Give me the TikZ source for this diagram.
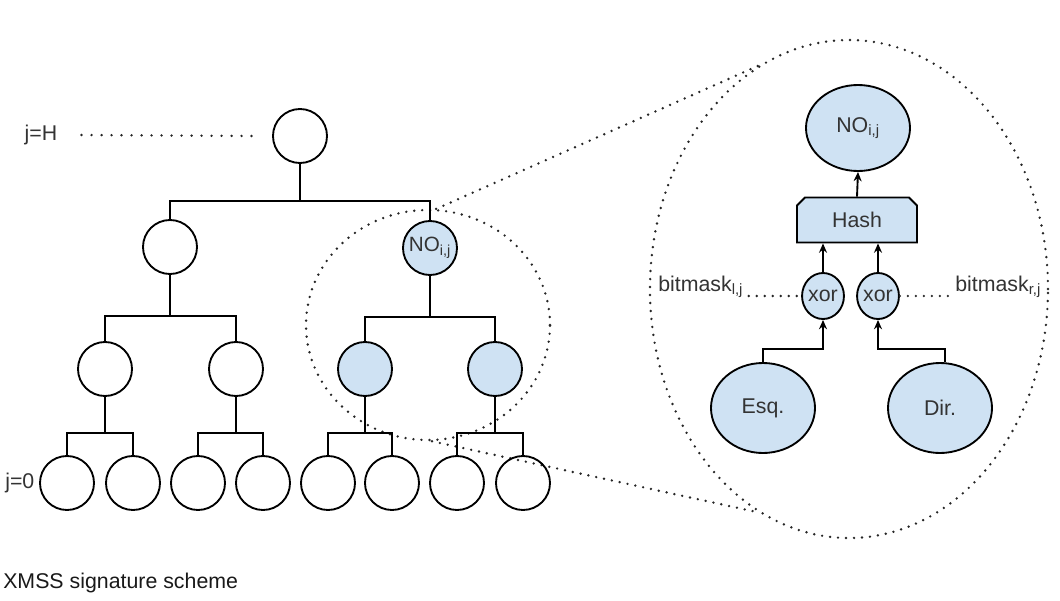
\documentclass[tikz,border=0pt]{standalone}
\usepackage{fontspec}
\setmainfont{Liberation Sans}
\usetikzlibrary{shapes.geometric,shapes.misc,arrows.meta}
\definecolor{nodeblue}{HTML}{CFE2F3}
\definecolor{txt}{HTML}{333333}
\begin{document}
\begin{tikzpicture}[x=0.75pt,y=-0.75pt,
  tnode/.style={circle,draw=black,line width=1.4pt,minimum size=40.5pt,inner sep=0pt,
    font=\fontsize{15.5}{18}\selectfont,text=txt},
  bnode/.style={tnode,fill=nodeblue},
  enode/.style={ellipse,draw=black,line width=1.4pt,fill=nodeblue,inner sep=0pt,
    font=\fontsize{16}{18}\selectfont,text=txt},
  edge/.style={line width=1.4pt},
  arr/.style={line width=1.4pt,-{Stealth[length=7pt,width=6pt]}},
  dots/.style={line width=2pt,line cap=round,dash pattern=on 0pt off 6pt,draw=black!85},
  lbl/.style={font=\fontsize{16}{18}\selectfont,text=txt,inner sep=0pt}
]
\useasboundingbox (0,0) rectangle (1060,600);

% zoom shapes
\node[ellipse,dots,minimum width=183pt,minimum height=172.5pt,inner sep=0pt] (zl) at (428,325) {};
\node[ellipse,dots,minimum width=298.5pt,minimum height=373.5pt,inner sep=0pt] (zr) at (849,289) {};
\draw[dots] (zl.86) -- (zr.112);
\draw[dots] (zl.-88) -- (zr.248);

% tree
\node[tnode] (r) at (300,136) {};
\node[tnode] (a) at (170,247) {};
\node[bnode] (n) at (430,248) {NO\textsubscript{i,j}};
\node[tnode] (b1) at (105,369) {};
\node[tnode] (b2) at (236,369) {};
\node[bnode] (b3) at (365,369) {};
\node[bnode] (b4) at (495,369) {};
\foreach \i/\x in {1/67,2/133,3/198,4/263,5/328,6/392,7/457,8/523}
  \node[tnode] (l\i) at (\x,483) {};

\draw[edge] (r.south) -- ++(0,37) -| (a.north);
\draw[edge] (r.south) -- ++(0,37) -| (n.north);
\draw[edge] (a.south) -- ++(0,41) -| (b1.north);
\draw[edge] (a.south) -- ++(0,41) -| (b2.north);
\draw[edge] (n.south) -- ++(0,41) -| (b3.north);
\draw[edge] (n.south) -- ++(0,41) -| (b4.north);
\draw[edge] (b1.south) -- ++(0,36) -| (l1.north);
\draw[edge] (b1.south) -- ++(0,36) -| (l2.north);
\draw[edge] (b2.south) -- ++(0,36) -| (l3.north);
\draw[edge] (b2.south) -- ++(0,36) -| (l4.north);
\draw[edge] (b3.south) -- ++(0,36) -| (l5.north);
\draw[edge] (b3.south) -- ++(0,36) -| (l6.north);
\draw[edge] (b4.south) -- ++(0,36) -| (l7.north);
\draw[edge] (b4.south) -- ++(0,36) -| (l8.north);

\node[lbl] (jH) at (41,135) {j=H};
\draw[dots,dash pattern=on 0pt off 7.5pt] ([xshift=18pt]jH.east) -- ([xshift=-15pt]r.west);
\node[lbl,anchor=west] (j0) at (5,483) {j=0};

% detail
\node[enode,minimum width=78pt,minimum height=64.5pt] (top) at (858,128) {NO\textsubscript{i,j}};
\node[chamfered rectangle,chamfered rectangle corners={north west,north east},
  chamfered rectangle sep=3pt,draw=black,line width=1.4pt,fill=nodeblue,
  minimum width=90pt,minimum height=33.75pt,inner sep=0pt,
  font=\fontsize{16}{18}\selectfont,text=txt] (hash) at (857,220) {Hash};
\node[enode,minimum width=30pt,minimum height=34.5pt] (x1) at (823,296) {xor};
\node[enode,minimum width=30pt,minimum height=34.5pt] (x2) at (878,296) {xor};
\node[enode,minimum width=78pt,minimum height=67.5pt] (esq) at (763,408) {Esq.};
\node[enode,minimum width=78pt,minimum height=67.5pt] (dir) at (940,408) {Dir.};

\draw[arr] (hash.north) -- (top.south);
\draw[arr] (x1.north) -- (x1.north |- hash.south);
\draw[arr] (x2.north) -- (x2.north |- hash.south);
\draw[arr] (esq.north) -- ++(0,-13) -| (x1.south);
\draw[arr] ([xshift=4pt]dir.north) -- ++(0,-13) -| (x2.south);

\node[lbl,anchor=west] (bml) at (658,287) {bitmask\textsubscript{l,j}};
\node[lbl,anchor=west] (bmr) at (955,287) {bitmask\textsubscript{r,j}};
\draw[dots] ([xshift=4pt]bml.east |- x1.west) -- (x1.west);
\draw[dots] (x2.east) -- ([xshift=-4pt]bmr.west |- x2.east);

\node[lbl,anchor=west,text=black!90] (cap) at (3,583) {XMSS signature scheme};
\end{tikzpicture}
\end{document}
